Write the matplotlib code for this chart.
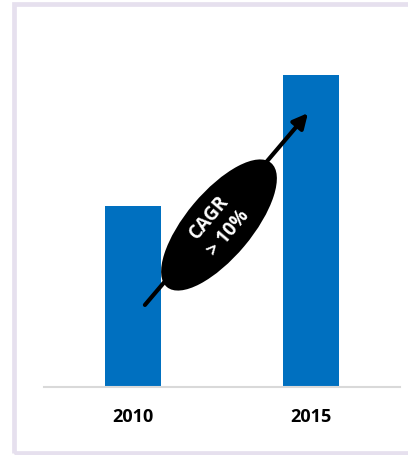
import matplotlib.pyplot as plt
from matplotlib.patches import Ellipse, Rectangle

# CAGR bar chart

years = ["2010", "2015"]
values = [5.8, 10.0]
cagr_label = "CAGR\n> 10%"

bar_color = "#0070C0"

fig = plt.figure(figsize=(4.08, 4.55), dpi=100)

# outer frame (light lavender border)
frame = Rectangle((0.145, 0.025), 4.5, 4.49, transform=fig.dpi_scale_trans,
                  fill=False, edgecolor="#E6E0EE", linewidth=3.4)
fig.patches.append(frame)

ax = fig.add_axes([44 / 408, (455 - 387) / 455, 356 / 408, (387 - 75) / 455])
x = list(range(len(years)))
ax.bar(x, values, width=0.315, color=bar_color)
ax.set_xlim(-0.5, 1.5)
ax.set_ylim(0, 10)

for s in ["top", "right", "left"]:
    ax.spines[s].set_visible(False)
ax.spines["bottom"].set_color("#D9D9D9")
ax.spines["bottom"].set_linewidth(1.5)
ax.set_yticks([])
ax.set_xticks(x)
ax.set_xticklabels(years, fontfamily="Open Sans", fontweight="bold", fontsize=13)
ax.tick_params(axis="x", length=0, pad=15)

# growth arrow
ax.annotate("", xy=(0.983, 8.78), xytext=(0.067, 2.63),
            arrowprops=dict(arrowstyle="-|>", color="black", lw=3,
                            mutation_scale=22, shrinkA=0, shrinkB=0),
            annotation_clip=False)

# black ellipse with CAGR label
ell = Ellipse((2.19, 2.30), 1.62, 0.66, angle=50, transform=fig.dpi_scale_trans,
              facecolor="black", edgecolor="none", zorder=5)
fig.patches.append(ell)
fig.text(2.19 / 4.08, 2.30 / 4.55, cagr_label, rotation=50, color="white",
         fontfamily="Open Sans", fontweight="bold", fontsize=13.5,
         ha="center", va="center", multialignment="center",
         rotation_mode="anchor", linespacing=1.3, zorder=6)

fig.savefig("out.png", dpi=100)
